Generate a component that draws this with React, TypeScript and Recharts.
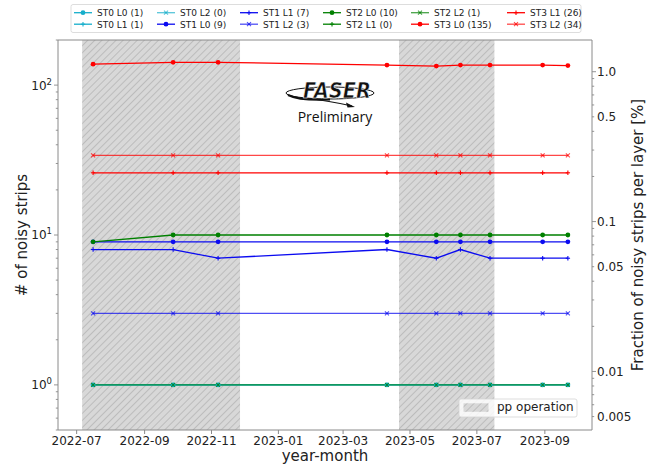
import React from 'react';
import { LineChart, Line, XAxis, YAxis, ReferenceArea, ReferenceLine } from 'recharts';

// ---------------- data ----------------
const runDates = [
  '2022-07-16', '2022-09-27', '2022-11-07', '2023-04-10', '2023-05-25',
  '2023-06-16', '2023-07-13', '2023-08-30', '2023-09-22',
];
const st0L0 = [1, 1, 1, 1, 1, 1, 1, 1, 1];
const st0L1 = [1, 1, 1, 1, 1, 1, 1, 1, 1];
const st0L2 = [0, 0, 0, 0, 0, 0, 0, 0, 0];
const st1L0 = [9, 9, 9, 9, 9, 9, 9, 9, 9];
const st1L1 = [8, 8, 7, 8, 7, 8, 7, 7, 7];
const st1L2 = [3, 3, 3, 3, 3, 3, 3, 3, 3];
const st2L0 = [9, 10, 10, 10, 10, 10, 10, 10, 10];
const st2L1 = [0, 0, 0, 0, 0, 0, 0, 0, 0];
const st2L2 = [1, 1, 1, 1, 1, 1, 1, 1, 1];
const st3L0 = [138, 142, 142, 136, 134, 136, 136, 136, 135];
const st3L1 = [26, 26, 26, 26, 26, 26, 26, 26, 26];
const st3L2 = [34, 34, 34, 34, 34, 34, 34, 34, 34];

const seriesNames = [
  'ST0 L0', 'ST0 L1', 'ST0 L2', 'ST1 L0', 'ST1 L1', 'ST1 L2',
  'ST2 L0', 'ST2 L1', 'ST2 L2', 'ST3 L0', 'ST3 L1', 'ST3 L2',
];
const seriesValues = [st0L0, st0L1, st0L2, st1L0, st1L1, st1L2, st2L0, st2L1, st2L2, st3L0, st3L1, st3L2];

const ppPeriods = [
  ['2022-07-06', '2022-11-27'],
  ['2023-04-21', '2023-07-17'],
];
const monthTickLabels = ['2022-07', '2022-09', '2022-11', '2023-01', '2023-03', '2023-05', '2023-07', '2023-09'];
const leftMajorTicks = [1, 10, 100];
const rightTickLabels = ['0.005', '0.01', '0.05', '0.1', '0.5', '1.0'];
const stripsPerLayer = 12288;
const xRange = ['2022-06-14', '2023-10-14'];
const yRange = [0.5, 200];

// ---------------- helpers / style ----------------
const W = 665;
const H = 468;
const PLOT = { left: 58, right: 592, top: 40, bottom: 430 };
const FONT = 'DejaVu Sans';
const AXIS = '#8a8a8a';
const TEXT = '#222';
const stationColors = ['#16aecb', '#0b0bf0', '#008000', '#ff0000'];
const layerMarker = ['o', '+', 'x'];
const layerOpacity = [1, 1, 0.72];

const DAY0 = Date.UTC(2022, 6, 1);
const toDay = (s: string) => (Date.parse(s) - DAY0) / 86400000;

const rows = runDates.map((d, i) => {
  const r: Record<string, number | null> = { x: toDay(d) };
  seriesValues.forEach((arr, k) => {
    r['s' + k] = arr[i] > 0 ? arr[i] : null;
  });
  return r;
});

const logTicks = (lo: number, hi: number) => {
  const out: number[] = [];
  for (let e = -4; e <= 3; e++) {
    for (let m = 1; m <= 9; m++) {
      const v = +(m * Math.pow(10, e)).toPrecision(6);
      if (v >= lo * 0.9999 && v <= hi * 1.0001) out.push(v);
    }
  }
  return out;
};

const rightDomain = [(yRange[0] * 100) / stripsPerLayer, (yRange[1] * 100) / stripsPerLayer];
const leftTicks = logTicks(yRange[0], yRange[1]);
const rightTicks = logTicks(rightDomain[0], rightDomain[1]);
const rightMajorValues = rightTickLabels.map(Number);
const near = (a: number, b: number) => Math.abs(a - b) / b < 1e-6;

const xTicks = monthTickLabels.map((m) => toDay(m + '-01'));

const LeftTick = (props: any) => {
  const { y, payload } = props;
  const v = payload.value;
  const major = leftMajorTicks.some((t) => near(v, t));
  const ax = PLOT.left;
  return (
    <g>
      <line x1={ax - (major ? 4 : 2.2)} x2={ax} y1={y} y2={y} stroke={AXIS} strokeWidth={0.9} />
      {major && (
        <text x={ax - 6} y={y + 4.4} textAnchor="end" fontFamily={FONT} fontSize={12} fill={TEXT}>
          10
          <tspan dy={-5} fontSize={8.5}>{String(Math.round(Math.log10(v)))}</tspan>
        </text>
      )}
    </g>
  );
};

const RightTick = (props: any) => {
  const { y, payload } = props;
  const v = payload.value;
  const idx = rightMajorValues.findIndex((t) => near(v, t));
  const isDecade = [0.01, 0.1, 1].some((t) => near(v, t));
  const ax = PLOT.right;
  return (
    <g>
      <line x1={ax} x2={ax + (isDecade ? 4 : 2.2)} y1={y} y2={y} stroke={AXIS} strokeWidth={0.9} />
      {idx >= 0 && (
        <text x={ax + 5} y={y + 4.4} textAnchor="start" fontFamily={FONT} fontSize={12} fill={TEXT}>
          {rightTickLabels[idx]}
        </text>
      )}
    </g>
  );
};

const markerShape = (kind: string, cx: number, cy: number, color: string, op: number, key?: string) => {
  if (kind === 'o') return <circle key={key} cx={cx} cy={cy} r={2.4} fill={color} fillOpacity={op} />;
  if (kind === '+')
    return (
      <g key={key} stroke={color} strokeOpacity={op} strokeWidth={1.1}>
        <line x1={cx - 2.2} x2={cx + 2.2} y1={cy} y2={cy} />
        <line x1={cx} x2={cx} y1={cy - 2.2} y2={cy + 2.2} />
      </g>
    );
  return (
    <g key={key} stroke={color} strokeOpacity={op} strokeWidth={1.1}>
      <line x1={cx - 2} x2={cx + 2} y1={cy - 2} y2={cy + 2} />
      <line x1={cx - 2} x2={cx + 2} y1={cy + 2} y2={cy - 2} />
    </g>
  );
};

const makeDot = (k: number) => (p: any) => {
  const color = stationColors[Math.floor(k / 3)];
  const layer = k % 3;
  if (p.cx == null || p.cy == null || !isFinite(p.cx) || !isFinite(p.cy) || p.value == null) {
    return <g key={`d${k}-${p.index}`} />;
  }
  return markerShape(layerMarker[layer], p.cx, p.cy, color, layerOpacity[layer], `d${k}-${p.index}`);
};

// ---------------- overlay (legend, titles, logo) ----------------
const legendCols = [74, 157, 240, 323, 411, 507];
const legendRows = [16, 27.5];

const Overlay = () => (
  <svg width={W} height={H} style={{ position: 'absolute', left: 0, top: 0, pointerEvents: 'none' }}>
    <defs>
      <pattern id="ppHatch" patternUnits="userSpaceOnUse" width={5} height={5} patternTransform="rotate(45)">
        <rect x={0} y={0} width={5} height={5} fill="#d8d8d8" />
        <line x1={0.5} y1={0} x2={0.5} y2={5} stroke="#b9b9b9" strokeWidth={0.9} />
      </pattern>
    </defs>

    {/* series legend */}
    <rect x={71} y={4.5} width={510} height={28} rx={2} fill="#fff" stroke="#d4d4d4" strokeWidth={0.8} />
    {seriesNames.map((name, i) => {
      const col = Math.floor(i / 2);
      const row = i % 2;
      const x = legendCols[col];
      const yb = legendRows[row];
      const yc = yb - 3.3;
      const color = stationColors[Math.floor(i / 3)];
      const layer = i % 3;
      const vals = seriesValues[i];
      return (
        <g key={name}>
          <line x1={x} x2={x + 18} y1={yc} y2={yc} stroke={color} strokeOpacity={layerOpacity[layer]} strokeWidth={1.3} />
          {markerShape(layerMarker[layer], x + 9, yc, color, layerOpacity[layer])}
          <text x={x + 23} y={yb} fontFamily={FONT} fontSize={9} fill={TEXT}>
            {`${name} (${vals[vals.length - 1]})`}
          </text>
        </g>
      );
    })}

    {/* axis titles */}
    <text x={27} y={235} transform="rotate(-90 27 235)" textAnchor="middle" fontFamily={FONT} fontSize={15} fill={TEXT}>
      # of noisy strips
    </text>
    <text x={643} y={235} transform="rotate(-90 643 235)" textAnchor="middle" fontFamily={FONT} fontSize={15} fill={TEXT}>
      Fraction of noisy strips per layer [%]
    </text>
    <text x={325} y={460.5} textAnchor="middle" fontFamily={FONT} fontSize={15} fill={TEXT}>
      year-month
    </text>

    {/* FASER logo */}
    <g>
      <ellipse cx={330} cy={93} rx={44} ry={6} fill="none" stroke="#111" strokeWidth={1} />
      <path d="M 288 95 Q 300 101 330 99.5" fill="none" stroke="#111" strokeWidth={2} />
      <path d="M 304 98 Q 330 101 352 106" fill="none" stroke="#111" strokeWidth={1.2} />
      <path d="M 355 107 L 346 102.5 L 347.5 107.5 Z" fill="#111" />
      <text x={337} y={98} textAnchor="middle" fontFamily={FONT} fontWeight="bold" fontStyle="italic" fontSize={21}
        textLength={68} lengthAdjust="spacingAndGlyphs" fill="#111" stroke="#fff" strokeWidth={0.6}>
        FASER
      </text>
      <text x={335} y={122} textAnchor="middle" fontFamily="Open Sans" fontSize={14} fill="#111">
        Preliminary
      </text>
    </g>

    {/* pp operation legend */}
    <rect x={459} y={399} width={118} height={18} rx={2} fill="#fff" fillOpacity={0.8} stroke="#d4d4d4" strokeWidth={0.8} />
    <rect x={463.5} y={403.3} width={25} height={8.5} fill="url(#ppHatch)" />
    <text x={497} y={410.7} fontFamily={FONT} fontSize={12} fill={TEXT}>
      pp operation
    </text>
  </svg>
);

export default function App() {
  return (
    <div style={{ position: 'absolute', left: 0, top: 0, width: W, height: H, background: '#fff' }}>
      <LineChart width={W} height={H} data={rows} margin={{ top: PLOT.top, right: 0, bottom: 0, left: 0 }}>
        <XAxis
          dataKey="x"
          type="number"
          domain={[toDay(xRange[0]), toDay(xRange[1])]}
          allowDataOverflow
          ticks={xTicks}
          interval={0}
          tickFormatter={(v: number) => monthTickLabels[xTicks.findIndex((t) => Math.abs(t - v) < 0.01)] ?? ''}
          height={H - PLOT.bottom}
          tickSize={4}
          tickMargin={2}
          stroke={AXIS}
          tick={{ fontFamily: FONT, fontSize: 12, fill: TEXT }}
        />
        <YAxis
          yAxisId="left"
          scale="log"
          type="number"
          domain={yRange}
          allowDataOverflow
          ticks={leftTicks}
          interval={0}
          width={PLOT.left}
          tickLine={false}
          tick={<LeftTick />}
          stroke={AXIS}
        />
        <YAxis
          yAxisId="right"
          orientation="right"
          scale="log"
          type="number"
          domain={rightDomain}
          allowDataOverflow
          ticks={rightTicks}
          interval={0}
          width={W - PLOT.right}
          tickLine={false}
          tick={<RightTick />}
          stroke={AXIS}
        />
        {ppPeriods.map(([a, b]) => (
          <ReferenceArea
            key={a}
            yAxisId="left"
            x1={toDay(a)}
            x2={toDay(b)}
            fill="url(#ppHatch)"
            fillOpacity={1}
            stroke="none"
          />
        ))}
        {seriesNames.map((name, k) => (
          <Line
            key={name}
            yAxisId="left"
            dataKey={'s' + k}
            name={name}
            stroke={stationColors[Math.floor(k / 3)]}
            strokeOpacity={layerOpacity[k % 3]}
            strokeWidth={1.3}
            dot={makeDot(k)}
            activeDot={false}
            isAnimationActive={false}
            type="linear"
          />
        ))}
        <ReferenceLine yAxisId="left" y={yRange[1]} stroke={AXIS} ifOverflow="visible" />
      </LineChart>
      <Overlay />
    </div>
  );
}
